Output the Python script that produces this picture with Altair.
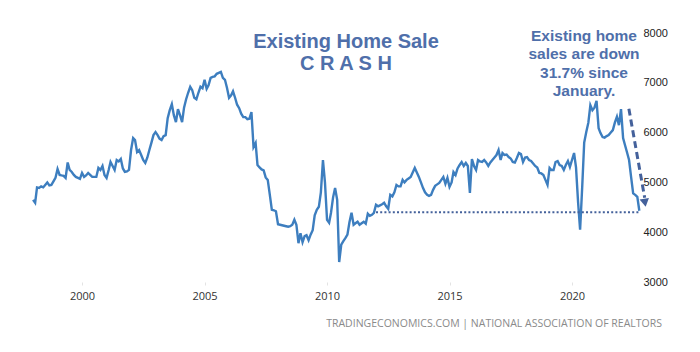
import altair as alt
import pandas as pd

# Monthly existing home sales (thousands, SAAR), Jan 1998 .. Oct 2022
sales = [
    4650, 4590, 4900, 4890, 4920, 4900, 4950, 5000, 4940, 4950, 5020, 5090,  # 1998
    5270, 5150, 5140, 5130, 5090, 5400, 5250, 5210, 5150, 5110, 5090, 5070,  # 1999
    5190, 5110, 5140, 5190, 5150, 5110, 5110, 5110, 5290, 5250, 5330, 5150,  # 2000
    5090, 5250, 5410, 5330, 5250, 5450, 5420, 5470, 5280, 5210, 5220, 5250,  # 2001
    5650, 5890, 5850, 5610, 5650, 5550, 5450, 5390, 5500, 5650, 5800, 5950,  # 2002
    6010, 5950, 5880, 5850, 5930, 5950, 6290, 6450, 6570, 6350, 6210, 6470,  # 2003
    6350, 6210, 6500, 6670, 6800, 6920, 6850, 6700, 6670, 6800, 6920, 6890,  # 2004
    7060, 6880, 6950, 7100, 7120, 7130, 7180, 7200, 7220, 7100, 7060, 6900,  # 2005
    6700, 6750, 6830, 6700, 6560, 6490, 6380, 6310, 6310, 6270, 6280, 6410,  # 2006
    5710, 5790, 5350, 5300, 5260, 5240, 5100, 5050, 4750, 4450, 4440, 4420,  # 2007
    4160, 4150, 4140, 4130, 4120, 4110, 4120, 4150, 4250, 4150, 3780, 3980,  # 2008
    3800, 3920, 3940, 3840, 3950, 4040, 4340, 4450, 4510, 4800, 5450, 5000,  # 2009
    4250, 4190, 4390, 4700, 4890, 4650, 3400, 3750, 3820, 3880, 3950, 4200,  # 2010
    4390, 4150, 4180, 4210, 4150, 4180, 4210, 4170, 4370, 4330, 4350, 4390,  # 2011
    4550, 4520, 4540, 4560, 4590, 4520, 4470, 4750, 4720, 4800, 4950, 4920,  # 2012
    4920, 5050, 5000, 5050, 5080, 5110, 5200, 5290, 5200, 5110, 5000, 4890,  # 2013
    4800, 4750, 4730, 4750, 4850, 4930, 4960, 4990, 5050, 5110, 4970, 5090,  # 2014
    4910, 5000, 5210, 5150, 5280, 5350, 5410, 5330, 5390, 5330, 4790, 5470,  # 2015
    5330, 5250, 5450, 5420, 5410, 5450, 5400, 5330, 5400, 5450, 5500, 5550,  # 2016
    5650, 5450, 5590, 5550, 5560, 5510, 5480, 5410, 5400, 5490, 5590, 5570,  # 2017
    5410, 5500, 5510, 5450, 5430, 5380, 5330, 5300, 5190, 5180, 5150, 5050,  # 2018
    4950, 5290, 5250, 5250, 5410, 5430, 5350, 5330, 5250, 5350, 5430, 5310,  # 2019
    5450, 5590, 5300, 4600, 4050, 4900, 5800, 6010, 6200, 6550, 6450, 6500,  # 2020
    6640, 6090, 5990, 5910, 5900, 5930, 5950, 6000, 6050, 6200, 6320, 6150,  # 2021
    6470, 5890, 5750, 5600, 5450, 5100, 4780, 4750, 4710, 4430,              # 2022
]
dates = pd.date_range("1998-01-01", periods=len(sales), freq="MS").strftime("%Y-%m-%dT00:00:00")

tick_years = [2000, 2005, 2010, 2015, 2020]
y_ticks = [3000, 4000, 5000, 6000, 7000, 8000]

# annotation anchors (data space)
ref_dates = ["2012-01-01T00:00:00", "2022-10-01T00:00:00"]
ref_values = [4400, 4400]
arrow_dates = ["2022-04-28T00:00:00", "2022-12-20T00:00:00"]
arrow_values = [6480, 4690]
head_date = ["2022-12-24T00:00:00"]
head_value = [4590]

title_lines = ["Existing Home Sale", "C R A S H"]
note_lines = ["Existing home", "sales are down", "31.7% since", "January."]
source_text = "TRADINGECONOMICS.COM | NATIONAL ASSOCIATION OF REALTORS"

LINE = "#3d7ebf"
BLUE_TXT = "#4f6faa"
DARK = "#44619b"

df = pd.DataFrame({"date": dates, "sales": sales})
ref_df = pd.DataFrame({"date": ref_dates, "sales": ref_values})
arrow_df = pd.DataFrame({"date": arrow_dates, "sales": arrow_values})
head_df = pd.DataFrame({"date": head_date, "sales": head_value})

x_scale = alt.Scale(domain=[alt.DateTime(year=1996, month=8, date=26),
                            alt.DateTime(year=2022, month=10, date=11)])
y_scale = alt.Scale(domain=[3000, 8000])

x_enc = alt.X("date:T", scale=x_scale, title="",
              axis=alt.Axis(values=[alt.DateTime(year=y, month=1, date=1) for y in tick_years],
                            format="%Y", labelFont="Open Sans", labelFontSize=11,
                            labelColor="#333333", domain=False, grid=False,
                            tickSize=3, tickColor="#e3e3e3", labelPadding=5))
y_enc = alt.Y("sales:Q", scale=y_scale, title="",
              axis=alt.Axis(orient="right", values=y_ticks, format="d",
                            labelFont="Liberation Sans",
                            labelFontSize=11, labelColor="#222222", domain=False,
                            ticks=False, grid=False, labelPadding=3))

line = alt.Chart(df).mark_line(color=LINE, strokeWidth=2.4).encode(x=x_enc, y=y_enc)

ref = alt.Chart(ref_df).mark_line(color=DARK, strokeWidth=2, strokeDash=[2, 2.2]).encode(
    x="date:T", y="sales:Q")

arrow = alt.Chart(arrow_df).mark_line(color=DARK, strokeWidth=3, strokeDash=[7, 4]).encode(
    x="date:T", y="sales:Q")

head = alt.Chart(head_df).mark_point(shape="triangle-down", filled=True, color=DARK,
                                     opacity=1, size=90, angle=350).encode(
    x="date:T", y="sales:Q")

one = alt.Data(values=[{"k": 1}])

title = alt.Chart(one).mark_text(fontSize=20, fontWeight="bold", font="Liberation Sans",
                                 color=BLUE_TXT, align="center", baseline="alphabetic",
                                 lineHeight=22).encode(
    x=alt.value(346), y=alt.value(15), text=alt.value(title_lines))

note = alt.Chart(one).mark_text(fontSize=15.5, fontWeight="bold", font="Liberation Sans",
                                color=BLUE_TXT, align="center", baseline="alphabetic",
                                lineHeight=18.4).encode(
    x=alt.value(584), y=alt.value(8), text=alt.value(note_lines))

source = alt.Chart(one).mark_text(fontSize=10.5, font="Open Sans", color="#8a8a8a",
                                  align="right", baseline="alphabetic").encode(
    x=alt.value(662), y=alt.value(294), text=alt.value(source_text))

chart = alt.layer(line, ref, arrow, head, title, note, source).properties(
    width=640, height=249,
    padding={"left": 0, "top": 33, "right": 60, "bottom": 70},
    autosize=alt.AutoSizeParams(type="none"),
    background="white",
).configure_view(strokeWidth=0)

chart.save("out.html", embed_options={"renderer": "svg", "actions": False})
